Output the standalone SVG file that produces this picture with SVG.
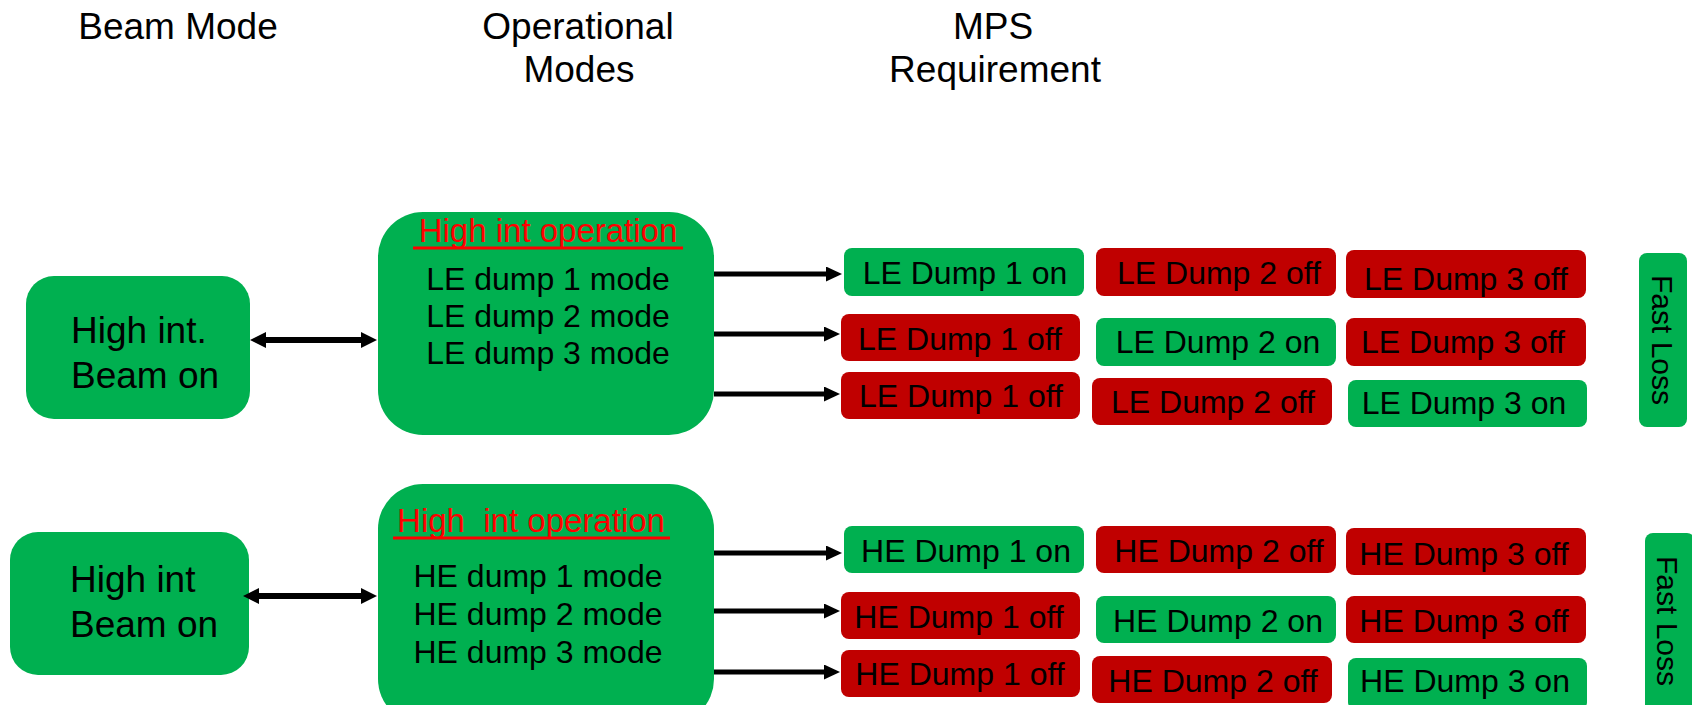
<svg xmlns="http://www.w3.org/2000/svg" width="1692" height="705" viewBox="0 0 1692 705">
<style>
text{font-family:"Liberation Sans",Arial,sans-serif;fill:#000}
.title{font-size:37px;text-anchor:middle}
.big{font-size:37px}
.mode{font-size:32px;text-anchor:middle}
.op{font-size:33px;text-anchor:middle;fill:#FF0000}
.mps{font-size:32px;text-anchor:middle}
.fl{font-size:30px;text-anchor:middle}
.g{fill:#00B050}
.r{fill:#C00000}
.ln{stroke:#000;stroke-width:5;fill:none}
.dbl{stroke:#000;stroke-width:6;fill:none}
.ul{stroke:#FF0000;stroke-width:3}
</style>
<defs>
<marker id="ah" viewBox="0 0 16 15" refX="6" refY="7.5" markerWidth="16" markerHeight="15" markerUnits="userSpaceOnUse" orient="auto-start-reverse">
<path d="M0,0 L16,7.5 L0,15 z" fill="#000"/>
</marker>
<marker id="ah2" viewBox="0 0 16 16" refX="6" refY="8" markerWidth="16" markerHeight="16" markerUnits="userSpaceOnUse" orient="auto-start-reverse">
<path d="M0,0 L16,8 L0,16 z" fill="#000"/>
</marker>
</defs>
<rect width="1692" height="705" fill="#fff"/>

<g id="titles">
<text class="title" x="178" y="39">Beam Mode</text>
<text class="title" x="578" y="39">Operational</text>
<text class="title" x="579" y="82">Modes</text>
<text class="title" x="993" y="39">MPS</text>
<text class="title" x="995" y="82">Requirement</text>
</g>

<g id="beam-le">
<rect class="g" x="26" y="276" width="224" height="143" rx="28"/>
<text class="big" x="71" y="343">High int.</text>
<text class="big" x="71" y="388">Beam on</text>
</g>
<g id="op-le">
<rect class="g" x="378" y="212" width="336" height="223" rx="45"/>
<text class="op" x="548" y="242">High int operation</text>
<line class="ul" x1="413" y1="248" x2="683" y2="248"/>
<text class="mode" x="548" y="290">LE dump 1 mode</text>
<text class="mode" x="548" y="327">LE dump 2 mode</text>
<text class="mode" x="548" y="364">LE dump 3 mode</text>
</g>

<g id="beam-he">
<rect class="g" x="10" y="532" width="239" height="143" rx="28"/>
<text class="big" x="70" y="592">High int</text>
<text class="big" x="70" y="637">Beam on</text>
</g>
<g id="op-he">
<rect class="g" x="378" y="484" width="336" height="240" rx="45"/>
<text class="op" x="531" y="532" xml:space="preserve">High  int operation</text>
<line class="ul" x1="393" y1="538" x2="670" y2="538"/>
<text class="mode" x="538" y="587">HE dump 1 mode</text>
<text class="mode" x="538" y="625">HE dump 2 mode</text>
<text class="mode" x="538" y="663">HE dump 3 mode</text>
</g>

<g id="mps-le">
<rect class="g" x="844" y="248" width="240" height="48" rx="8"/>
<text class="mps" x="965" y="284">LE Dump 1 on</text>
<rect class="r" x="1096" y="248" width="240" height="48" rx="8"/>
<text class="mps" x="1219" y="284">LE Dump 2 off</text>
<rect class="r" x="1346" y="250" width="240" height="48" rx="8"/>
<text class="mps" x="1466" y="290">LE Dump 3 off</text>

<rect class="r" x="841" y="314" width="239" height="47" rx="8"/>
<text class="mps" x="960" y="350">LE Dump 1 off</text>
<rect class="g" x="1096" y="318" width="240" height="48" rx="8"/>
<text class="mps" x="1218" y="353">LE Dump 2 on</text>
<rect class="r" x="1346" y="318" width="240" height="48" rx="8"/>
<text class="mps" x="1463" y="353">LE Dump 3 off</text>

<rect class="r" x="841" y="372" width="239" height="47" rx="8"/>
<text class="mps" x="961" y="407">LE Dump 1 off</text>
<rect class="r" x="1092" y="378" width="240" height="47" rx="8"/>
<text class="mps" x="1213" y="413">LE Dump 2 off</text>
<rect class="g" x="1348" y="380" width="239" height="47" rx="8"/>
<text class="mps" x="1464" y="414">LE Dump 3 on</text>
</g>

<g id="mps-he">
<rect class="g" x="844" y="526" width="240" height="47" rx="8"/>
<text class="mps" x="966" y="562">HE Dump 1 on</text>
<rect class="r" x="1096" y="526" width="240" height="47" rx="8"/>
<text class="mps" x="1219" y="562">HE Dump 2 off</text>
<rect class="r" x="1346" y="528" width="240" height="47" rx="8"/>
<text class="mps" x="1464" y="565">HE Dump 3 off</text>

<rect class="r" x="841" y="592" width="239" height="47" rx="8"/>
<text class="mps" x="959" y="628">HE Dump 1 off</text>
<rect class="g" x="1096" y="596" width="240" height="47" rx="8"/>
<text class="mps" x="1218" y="632">HE Dump 2 on</text>
<rect class="r" x="1346" y="596" width="240" height="47" rx="8"/>
<text class="mps" x="1464" y="632">HE Dump 3 off</text>

<rect class="r" x="841" y="650" width="239" height="47" rx="8"/>
<text class="mps" x="960" y="685">HE Dump 1 off</text>
<rect class="r" x="1092" y="656" width="240" height="47" rx="8"/>
<text class="mps" x="1213" y="692">HE Dump 2 off</text>
<rect class="g" x="1348" y="658" width="239" height="52" rx="8"/>
<text class="mps" x="1465" y="692">HE Dump 3 on</text>
</g>

<g id="fastloss-le">
<rect class="g" x="1639" y="253" width="48" height="174" rx="8"/>
<text class="fl" x="1652" y="340" transform="rotate(90 1652 340)">Fast Loss</text>
</g>
<g id="fastloss-he">
<rect class="g" x="1645" y="533" width="50" height="180" rx="8"/>
<text class="fl" x="1657" y="621" transform="rotate(90 1657 621)">Fast Loss</text>
</g>

<g id="connectors">
<line class="dbl" x1="260" y1="340" x2="367" y2="340" marker-start="url(#ah2)" marker-end="url(#ah2)"/>
<line class="dbl" x1="253" y1="596" x2="367" y2="596" marker-start="url(#ah2)" marker-end="url(#ah2)"/>
<line class="ln" x1="714" y1="274" x2="832" y2="274" marker-end="url(#ah)"/>
<line class="ln" x1="714" y1="334" x2="830" y2="334" marker-end="url(#ah)"/>
<line class="ln" x1="714" y1="394" x2="830" y2="394" marker-end="url(#ah)"/>
<line class="ln" x1="714" y1="553" x2="832" y2="553" marker-end="url(#ah)"/>
<line class="ln" x1="714" y1="611" x2="830" y2="611" marker-end="url(#ah)"/>
<line class="ln" x1="714" y1="672" x2="830" y2="672" marker-end="url(#ah)"/>
</g>
</svg>
